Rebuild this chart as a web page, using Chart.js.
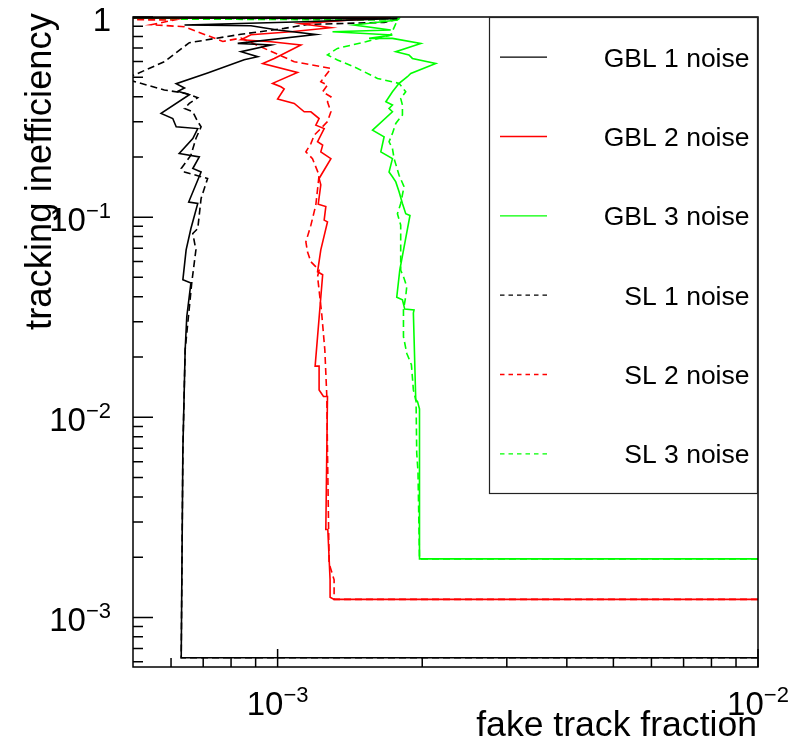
<!DOCTYPE html>
<html>
<head>
<meta charset="utf-8">
<script src="https://cdn.jsdelivr.net/npm/chart.js@4"></script>
<style>
html, body { margin: 0; padding: 0; background: #fff; }
#wrap { width: 795px; height: 747px; position: relative; }
</style>
</head>
<body>
<div id="wrap"><canvas id="roc"></canvas></div>
<script>
// x = fake track fraction, y = tracking inefficiency
const gbl1X = [1.0e-2, 6.30e-4, 6.35e-4, 6.42e-4, 6.47e-4, 6.60e-4, 6.35e-4, 6.45e-4, 6.60e-4, 6.82e-4, 6.53e-4, 6.93e-4, 6.66e-4, 6.87e-4, 6.24e-4, 6.66e-4, 6.82e-4, 6.15e-4, 6.05e-4, 5.72e-4, 6.55e-4, 6.20e-4, 6.40e-4, 6.15e-4, 7.15e-4, 8.52e-4, 9.09e-4, 8.39e-4, 9.69e-4, 8.26e-4, 1.201e-3, 1.000e-3, 8.80e-4, 6.40e-4, 1.136e-3, 1.776e-3, 1.0e-4];
const gbl1Y = [6.28e-4, 6.28e-4, 6.86e-3, 2.17e-2, 3.18e-2, 4.69e-2, 4.86e-2, 6.86e-2, 8.77e-2, 0.117, 0.119, 0.168, 0.175, 0.200, 0.208, 0.247, 0.277, 0.283, 0.311, 0.330, 0.409, 0.425, 0.442, 0.464, 0.525, 0.612, 0.633, 0.671, 0.724, 0.738, 0.818, 0.861, 0.905, 0.912, 0.947, 0.984, 0.995];

const gbl2X = [1.0e-2, 1.311e-3, 1.286e-3, 1.286e-3, 1.272e-3, 1.260e-3, 1.270e-3, 1.246e-3, 1.220e-3, 1.220e-3, 1.197e-3, 1.241e-3, 1.211e-3, 1.230e-3, 1.270e-3, 1.250e-3, 1.260e-3, 1.215e-3, 1.230e-3, 1.220e-3, 1.291e-3, 1.230e-3, 1.241e-3, 1.211e-3, 1.250e-3, 1.201e-3, 1.220e-3, 1.173e-3, 1.136e-3, 1.083e-3, 1.000e-3, 1.032e-3, 1.016e-3, 9.76e-4, 1.100e-3, 9.31e-4, 9.84e-4, 1.118e-3, 9.69e-4, 8.39e-4, 8.80e-4, 1.066e-3, 1.291e-3, 1.118e-3, 1.420e-3, 1.720e-3, 1.0e-4];
const gbl2Y = [1.23e-3, 1.23e-3, 1.26e-3, 1.54e-3, 2.75e-3, 2.75e-3, 1.27e-2, 1.27e-2, 1.37e-2, 1.80e-2, 1.80e-2, 5.15e-2, 5.33e-2, 6.86e-2, 9.47e-2, 9.66e-2, 0.113, 0.116, 0.145, 0.156, 0.196, 0.212, 0.229, 0.238, 0.277, 0.288, 0.311, 0.336, 0.336, 0.370, 0.389, 0.437, 0.448, 0.466, 0.528, 0.586, 0.621, 0.724, 0.752, 0.770, 0.816, 0.844, 0.884, 0.926, 0.966, 0.992, 0.995];

const gbl3X = [1.0e-2, 1.974e-3, 1.974e-3, 1.955e-3, 1.939e-3, 1.923e-3, 1.917e-3, 1.923e-3, 1.839e-3, 1.819e-3, 1.770e-3, 1.796e-3, 1.886e-3, 1.848e-3, 1.819e-3, 1.790e-3, 1.762e-3, 1.734e-3, 1.706e-3, 1.734e-3, 1.640e-3, 1.666e-3, 1.576e-3, 1.734e-3, 1.706e-3, 1.734e-3, 1.680e-3, 1.734e-3, 1.790e-3, 1.863e-3, 1.893e-3, 2.134e-3, 1.908e-3, 1.877e-3, 1.762e-3, 1.986e-3, 1.734e-3, 1.550e-3, 1.734e-3, 1.301e-3, 1.720e-3, 1.443e-3, 1.776e-3, 1.790e-3, 1.0e-4];
const gbl3Y = [1.96e-3, 1.96e-3, 1.10e-2, 1.20e-2, 1.22e-2, 2.53e-2, 3.32e-2, 3.44e-2, 3.47e-2, 3.86e-2, 3.98e-2, 5.43e-2, 0.102, 0.104, 0.117, 0.134, 0.150, 0.159, 0.168, 0.196, 0.212, 0.252, 0.272, 0.336, 0.349, 0.363, 0.377, 0.423, 0.466, 0.503, 0.522, 0.586, 0.621, 0.646, 0.671, 0.738, 0.782, 0.782, 0.813, 0.844, 0.861, 0.912, 0.966, 0.984, 0.995];

const sl1X = [1.0e-2, 6.30e-4, 6.35e-4, 6.42e-4, 6.63e-4, 6.76e-4, 6.66e-4, 6.82e-4, 6.93e-4, 7.15e-4, 6.40e-4, 6.30e-4, 6.60e-4, 6.76e-4, 6.93e-4, 6.82e-4, 6.66e-4, 6.40e-4, 6.55e-4, 6.82e-4, 6.45e-4, 5.81e-4, 4.72e-4, 5.03e-4, 5.81e-4, 6.55e-4, 8.39e-4, 1.032e-3, 1.154e-3, 1.666e-3, 1.804e-3, 1.0e-4];
const sl1Y = [6.28e-4, 6.28e-4, 6.86e-3, 2.17e-2, 4.76e-2, 6.86e-2, 8.28e-2, 8.77e-2, 0.124, 0.156, 0.168, 0.175, 0.204, 0.247, 0.283, 0.300, 0.336, 0.349, 0.370, 0.395, 0.415, 0.432, 0.497, 0.513, 0.598, 0.744, 0.820, 0.877, 0.918, 0.940, 0.981, 0.995];

const sl2X = [1.0e-2, 1.311e-3, 1.311e-3, 1.280e-3, 1.270e-3, 1.266e-3, 1.254e-3, 1.235e-3, 1.211e-3, 1.220e-3, 1.173e-3, 1.154e-3, 1.145e-3, 1.173e-3, 1.201e-3, 1.220e-3, 1.182e-3, 1.145e-3, 1.173e-3, 1.192e-3, 1.230e-3, 1.270e-3, 1.291e-3, 1.270e-3, 1.291e-3, 1.241e-3, 1.270e-3, 1.230e-3, 1.291e-3, 1.083e-3, 9.38e-4, 8.39e-4, 7.69e-4, 6.40e-4, 5.45e-4, 6.10e-4, 5.03e-4, 1.0e-4];
const sl2Y = [1.23e-3, 1.23e-3, 1.54e-3, 1.86e-3, 6.86e-3, 1.27e-2, 2.17e-2, 3.32e-2, 5.05e-2, 5.43e-2, 5.98e-2, 6.71e-2, 7.52e-2, 9.12e-2, 0.115, 0.162, 0.196, 0.212, 0.233, 0.257, 0.277, 0.300, 0.336, 0.377, 0.399, 0.423, 0.457, 0.475, 0.553, 0.598, 0.697, 0.785, 0.755, 0.894, 0.915, 0.966, 0.969, 0.995];

const sl3X = [1.0e-2, 1.974e-3, 1.960e-3, 1.948e-3, 1.942e-3, 1.917e-3, 1.899e-3, 1.857e-3, 1.828e-3, 1.828e-3, 1.848e-3, 1.857e-3, 1.833e-3, 1.804e-3, 1.804e-3, 1.776e-3, 1.804e-3, 1.833e-3, 1.790e-3, 1.748e-3, 1.734e-3, 1.706e-3, 1.734e-3, 1.762e-3, 1.819e-3, 1.819e-3, 1.804e-3, 1.848e-3, 1.790e-3, 1.614e-3, 1.443e-3, 1.332e-3, 1.270e-3, 1.332e-3, 1.526e-3, 1.720e-3, 1.776e-3, 1.0e-4];
const sl3Y = [1.96e-3, 1.96e-3, 5.35e-3, 6.63e-3, 1.20e-2, 1.37e-2, 1.83e-2, 2.09e-2, 2.53e-2, 3.44e-2, 4.01e-2, 4.50e-2, 4.95e-2, 5.43e-2, 9.12e-2, 0.104, 0.117, 0.142, 0.162, 0.196, 0.220, 0.238, 0.262, 0.294, 0.324, 0.363, 0.392, 0.423, 0.466, 0.493, 0.564, 0.610, 0.646, 0.697, 0.752, 0.813, 0.966, 0.995];

const seriesNames = ["GBL 1 noise", "GBL 2 noise", "GBL 3 noise", "SL 1 noise", "SL 2 noise", "SL 3 noise"];

// axes
const xRange = [5.0e-4, 1.0e-2];
const yRange = [5.65e-4, 1.0];
const xMajorTicks = [1e-3, 1e-2];
const xMajorLabels = [["10", "\u22123"], ["10", "\u22122"]];
const yMajorTicks = [1e-3, 1e-2, 1e-1, 1];
const yMajorLabels = [["10", "\u22123"], ["10", "\u22122"], ["10", "\u22121"], ["1", ""]];
const minorMult = [2, 3, 4, 5, 6, 7, 8, 9];
const decades = [1e-4, 1e-3, 1e-2, 1e-1];

const FONT = '"Liberation Sans", Arial, Helvetica, sans-serif';

function pts(xs, ys) {
  return xs.map((v, i) => ({x: v, y: ys[i]}));
}

function line(label, xs, ys, color, dashed) {
  return {
    label: label,
    data: pts(xs, ys),
    showLine: true,
    borderColor: color,
    backgroundColor: color,
    borderWidth: 1.6,
    borderDash: dashed ? [7, 4] : [],
    pointRadius: 0,
    tension: 0,
    dashed: dashed
  };
}

// ROOT-like frame, inward ticks, power labels, titles and legend box
const rootStyle = {
  id: 'rootStyle',
  afterDraw(chart) {
    const ctx = chart.ctx;
    const a = chart.chartArea;
    const xs = chart.scales.x, ys = chart.scales.y;
    ctx.save();
    ctx.strokeStyle = '#000';
    ctx.lineWidth = 1.5;
    ctx.strokeRect(a.left, a.top, a.right - a.left, a.bottom - a.top);

    ctx.beginPath();
    decades.forEach(d => minorMult.forEach(m => {
      const v = d * m;
      if (v > xRange[0] && v < xRange[1]) {
        const px = xs.getPixelForValue(v);
        ctx.moveTo(px, a.bottom); ctx.lineTo(px, a.bottom - 9);
      }
      if (v > yRange[0] && v < yRange[1]) {
        const py = ys.getPixelForValue(v);
        ctx.moveTo(a.left, py); ctx.lineTo(a.left + 10, py);
      }
    }));
    xMajorTicks.forEach(v => {
      const px = xs.getPixelForValue(v);
      ctx.moveTo(px, a.bottom); ctx.lineTo(px, a.bottom - 18);
    });
    yMajorTicks.forEach(v => {
      const py = ys.getPixelForValue(v);
      ctx.moveTo(a.left, py); ctx.lineTo(a.left + 20, py);
    });
    ctx.stroke();

    ctx.fillStyle = '#000';
    ctx.textBaseline = 'alphabetic';
    ctx.textAlign = 'left';
    function power(lbl, x, base, align) {
      ctx.font = '33px ' + FONT;
      const wb = ctx.measureText(lbl[0]).width;
      ctx.font = '22px ' + FONT;
      const we = lbl[1] ? ctx.measureText(lbl[1]).width : 0;
      const left = align === 'center' ? x - (wb + we) / 2 : x - wb - we;
      ctx.font = '33px ' + FONT;
      ctx.fillText(lbl[0], left, base);
      if (lbl[1]) {
        ctx.font = '22px ' + FONT;
        ctx.fillText(lbl[1], left + wb, base - 13);
      }
    }
    xMajorTicks.forEach((v, i) => power(xMajorLabels[i], xs.getPixelForValue(v), 715, 'center'));
    yMajorTicks.forEach((v, i) => power(yMajorLabels[i], 111, ys.getPixelForValue(v) + 14, 'right'));

    // axis titles
    ctx.textAlign = 'right';
    ctx.font = '35.6px ' + FONT;
    ctx.fillText('fake track fraction', 757, 736);
    ctx.save();
    ctx.translate(51, 13);
    ctx.rotate(-Math.PI / 2);
    ctx.font = '36.4px ' + FONT;
    ctx.fillText('tracking inefficiency', 0, 0);
    ctx.restore();

    // legend
    const lx0 = 489.5, ly0 = 17.5, lx1 = 757.5, ly1 = 493.5;
    ctx.fillStyle = '#fff';
    ctx.fillRect(lx0, ly0, lx1 - lx0, ly1 - ly0);
    ctx.strokeStyle = '#222';
    ctx.lineWidth = 1.2;
    ctx.strokeRect(lx0, ly0, lx1 - lx0, ly1 - ly0);
    const step = (ly1 - ly0) / 6;
    chart.data.datasets.forEach((ds, i) => {
      const cy = ly0 + step * (i + 0.5);
      ctx.strokeStyle = ds.borderColor;
      ctx.lineWidth = 1.4;
      ctx.setLineDash(ds.dashed ? [4.5, 4] : []);
      ctx.beginPath();
      ctx.moveTo(500, cy); ctx.lineTo(547, cy);
      ctx.stroke();
      ctx.setLineDash([]);
      ctx.fillStyle = '#000';
      ctx.font = '26.5px ' + FONT;
      ctx.textAlign = 'right';
      ctx.fillText(ds.label, 749.5, cy + 9.5);
    });
    ctx.restore();
  }
};

new Chart(document.getElementById('roc'), {
  type: 'scatter',
  data: {
    datasets: [
      line(seriesNames[0], gbl1X, gbl1Y, '#000000', false),
      line(seriesNames[1], gbl2X, gbl2Y, '#ff0000', false),
      line(seriesNames[2], gbl3X, gbl3Y, '#00ff00', false),
      line(seriesNames[3], sl1X, sl1Y, '#000000', true),
      line(seriesNames[4], sl2X, sl2Y, '#ff0000', true),
      line(seriesNames[5], sl3X, sl3Y, '#00ff00', true)
    ]
  },
  options: {
    responsive: true,
    maintainAspectRatio: false,
    animation: false,
    devicePixelRatio: 1,
    layout: { padding: { left: 133, top: 17, right: 37, bottom: 80 } },
    plugins: { legend: { display: false }, tooltip: { enabled: false } },
    scales: {
      x: { type: 'logarithmic', min: xRange[0], max: xRange[1], display: false },
      y: { type: 'logarithmic', min: yRange[0], max: yRange[1], display: false }
    }
  },
  plugins: [rootStyle]
});
</script>
</body>
</html>
